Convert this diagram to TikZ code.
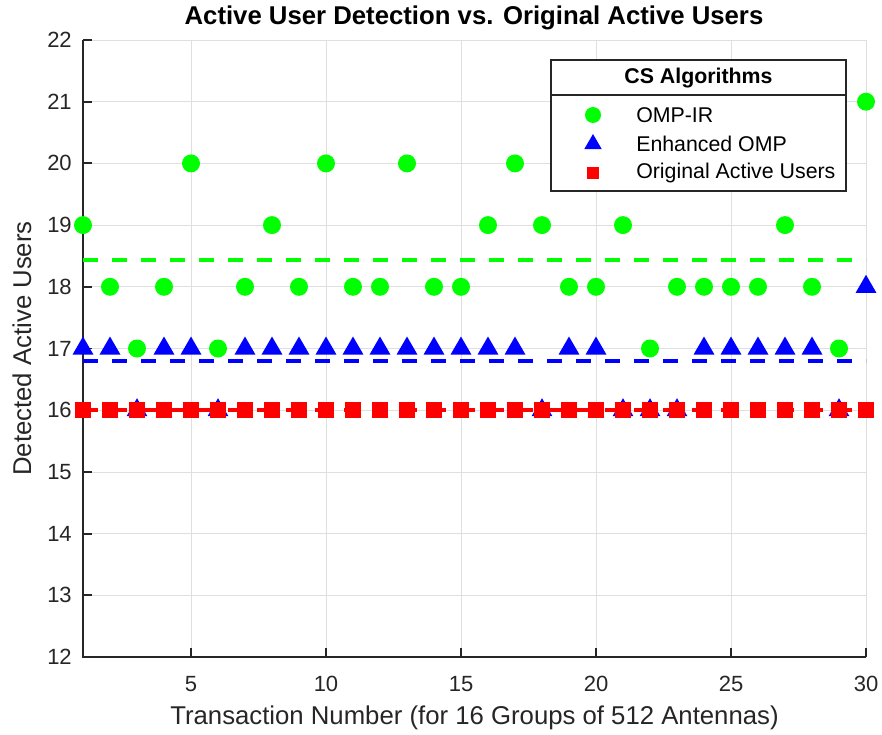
\documentclass[tikz,border=0pt]{standalone}
\usepackage{fontspec}
\setmainfont{Liberation Sans}
\definecolor{axc}{HTML}{262626}
\definecolor{gridc}{HTML}{DFDFDF}
\definecolor{mgreen}{RGB}{0,255,0}
\definecolor{mblue}{RGB}{0,0,255}
\definecolor{mred}{RGB}{255,0,0}
\begin{document}
\begin{tikzpicture}[x=0.75pt,y=-0.75pt,
  gridline/.style={draw=gridc,line width=0.6pt},
  axisline/.style={draw=axc,line width=1.4pt},
  ticklabel/.style={text=axc,inner sep=0pt,font=\fontsize{16.5pt}{19pt}\selectfont},
  axlabel/.style={text=axc,inner sep=0pt,font=\fontsize{19.3pt}{22pt}\selectfont},
  titlestyle/.style={text=black,inner sep=0pt,font=\fontsize{19.3pt}{22pt}\selectfont\bfseries},
  headstyle/.style={text=black,inner sep=0pt,font=\fontsize{16pt}{19pt}\selectfont\bfseries},
  legtext/.style={text=black,inner sep=0pt,anchor=west,font=\fontsize{16pt}{19pt}\selectfont},
  legbox/.style={draw=axc,line width=0.8pt,fill=white},
  meanline/.style={line width=2.6pt,dash pattern=on 11.25pt off 10.5pt},
  gdot/.style={fill=mgreen},
  btri/.style={fill=mblue},
  rsq/.style={fill=mred}
]
\useasboundingbox (0,0) rectangle (882,735);
\fill[white] (0,0) rectangle (882,735);
\begin{scope}[shift={(42pt,-1048.05pt)},x=20.25pt,y=46.275pt]
  % grid
  \foreach \yy in {12,...,22} \draw[gridline] (1,\yy) -- (30,\yy);
  \foreach \xx in {5,10,...,30} \draw[gridline] (\xx,12) -- (\xx,22);
  % axes
  \draw[axisline] (1,22) -- (1,12) -- (30,12);
  \foreach \yy in {12,...,22} {
    \draw[axisline] (1,\yy) -- ++(6.75pt,0);
    \node[ticklabel,anchor=east] (yt\yy) at ([xshift=-8.25pt]1,\yy) {\yy};
  }
  \foreach \xx in {5,10,...,30} {
    \draw[axisline] (\xx,12) -- ++(0,6.75pt);
    \node[ticklabel,anchor=north] (xt\xx) at ([yshift=-14.5pt]\xx,12) {\xx};
  }
  % mean lines
  \draw[meanline,draw=mgreen] (1,18.4333) -- (30,18.4333);
  \draw[meanline,draw=mblue] (1,16.8) -- (30,16.8);
  \draw[meanline,draw=mred] (1,16) -- (30,16);
  % OMP-IR
  \foreach \v [count=\i] in {19,18,17,18,20,17,18,19,18,20,18,18,20,18,18,19,20,19,18,18,19,17,18,18,18,18,19,18,17,21}
    \fill[gdot] (\i,\v) circle[radius=6.75pt];
  % Enhanced OMP
  \foreach \v [count=\i] in {17,17,16,17,17,16,17,17,17,17,17,17,17,17,17,17,17,16,17,17,16,16,16,17,17,17,17,17,16,18}
    \fill[btri] (\i,\v) ++(0pt,9pt) -- ++(-7.8pt,-13.5pt) -- ++(15.6pt,0pt) -- cycle;
  % Original
  \foreach \i in {1,...,30}
    \fill[rsq] (\i,16) ++(-5.9pt,-5.9pt) rectangle ++(11.8pt,11.8pt);
\end{scope}
% title and labels
\node[titlestyle] (title) at (474,18) {Active User Detection vs. Original Active Users};
\node[axlabel] (xlab) at (474.5,718) {Transaction Number (for 16 Groups of 512 Antennas)};
\node[axlabel,rotate=90] (ylab) at (22,348.5) {Detected Active Users};
% legend
\draw[legbox] (551,60) rectangle (846,191);
\draw[draw=axc,line width=0.8pt] (551,95) -- (846,95);
\node[headstyle] (leghead) at (698.5,78) {CS Algorithms};
\fill[gdot] (593,115) circle[radius=6pt];
\node[legtext] (leg1) at (636,115) {OMP-IR};
\fill[btri] (593,144) ++(0pt,7.5pt) -- ++(-6.5pt,-11.25pt) -- ++(13pt,0pt) -- cycle;
\node[legtext] (leg2) at (636,144) {Enhanced OMP};
\fill[rsq] (593,173) ++(-4.5pt,-4.5pt) rectangle ++(9pt,9pt);
\node[legtext] (leg3) at (636,173) {Original Active Users};
\end{tikzpicture}
\end{document}
